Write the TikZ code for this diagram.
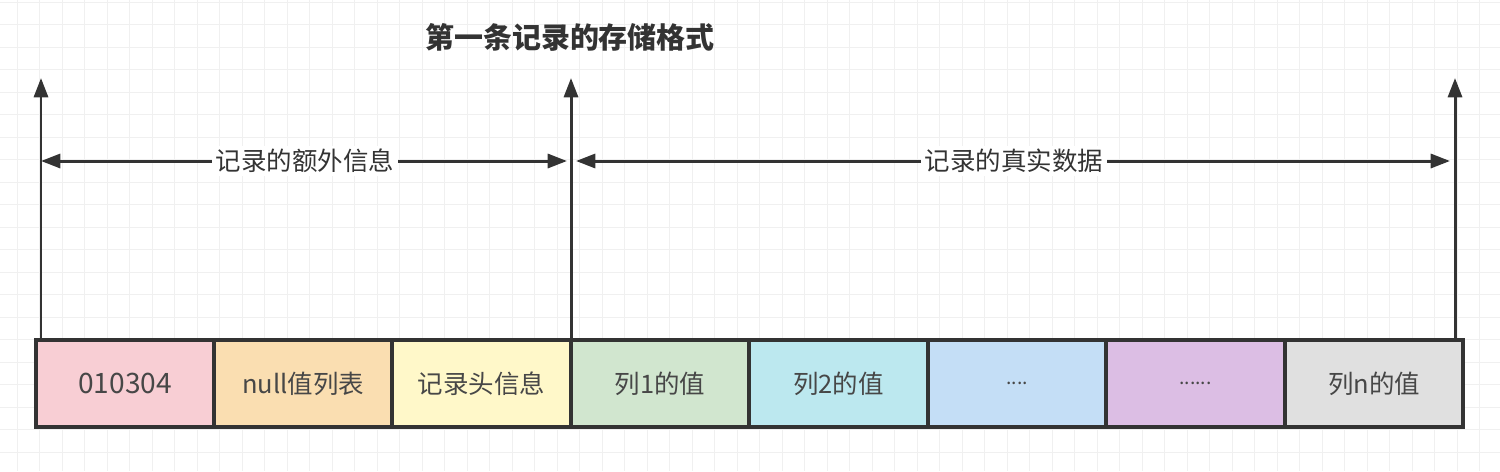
\documentclass[tikz,border=0pt]{standalone}
\usepackage{fontspec}
\setmainfont{Noto Sans CJK SC}
\usetikzlibrary{arrows.meta}
\definecolor{ln}{HTML}{333333}
\tikzset{
 cell/.style={draw=ln,line width=2pt,minimum width=3.56cm,minimum height=1.74cm,inner sep=0pt,font=\fontsize{14.5}{17}\selectfont,text=ln!90},
 arr/.style={draw=ln,line width=1.7pt,-{Triangle[length=11pt,width=8pt]}},
 darr/.style={draw=ln,line width=1.7pt,{Triangle[length=11pt,width=8pt]}-{Triangle[length=11pt,width=8pt]}},
 lab/.style={fill=white,inner sep=2pt,font=\fontsize{14.5}{17}\selectfont,text=ln}
}
\begin{document}
\begin{tikzpicture}[x=0.02cm,y=-0.02cm]
\useasboundingbox (0,0) rectangle (1500,471);
\fill[white] (0,0) rectangle (1500,471);
\foreach \i in {0,...,66} \draw[black!6,line width=0.5pt] (17.3+22.5*\i,0) -- (17.3+22.5*\i,471);
\foreach \j in {0,...,21} \draw[black!6,line width=0.5pt] (0,2+22.5*\j) -- (1500,2+22.5*\j);
\node[font=\bfseries\fontsize{16.5}{19}\selectfont,text=ln] (title) at (570,37) {第一条记录的存储格式};
\node[cell,fill={rgb,255:red,248;green,206;blue,212},font=\fontsize{16}{19}\selectfont] (c1) at (125,383.5) {010304};
\node[cell,fill={rgb,255:red,250;green,222;blue,177}] (c2) at (303,383.5) {null值列表};
\node[cell,fill={rgb,255:red,255;green,248;blue,201}] (c3) at (481.5,383.5) {记录头信息};
\node[cell,fill={rgb,255:red,209;green,230;blue,207}] (c4) at (660,383.5) {列1的值};
\node[cell,fill={rgb,255:red,188;green,232;blue,239}] (c5) at (838.5,383.5) {列2的值};
\node[cell,fill={rgb,255:red,196;green,222;blue,246},font=\fontsize{11}{13}\selectfont] (c6) at (1017,383.5) {....};
\node[cell,fill={rgb,255:red,220;green,190;blue,228},font=\fontsize{11}{13}\selectfont] (c7) at (1195.5,383.5) {......};
\node[cell,fill={rgb,255:red,224;green,224;blue,224}] (c8) at (1374,383.5) {列n的值};
\coordinate (a1b) at (41,338); \coordinate (a1t) at (41,78);
\coordinate (a2b) at (571,338); \coordinate (a2t) at (571,78);
\coordinate (a3b) at (1455,338); \coordinate (a3t) at (1455,78);
\draw[arr] (a1b) -- (a1t);
\draw[arr] (a2b) -- (a2t);
\draw[arr] (a3b) -- (a3t);
\coordinate (h1l) at (41,161); \coordinate (h1r) at (567,161);
\coordinate (h2l) at (576,161); \coordinate (h2r) at (1450,161);
\draw[darr] (h1l) -- (h1r);
\draw[darr] (h2l) -- (h2r);
\node[lab] (l1) at (305,161) {记录的额外信息};
\node[lab] (l2) at (1014,161) {记录的真实数据};
\end{tikzpicture}
\end{document}
